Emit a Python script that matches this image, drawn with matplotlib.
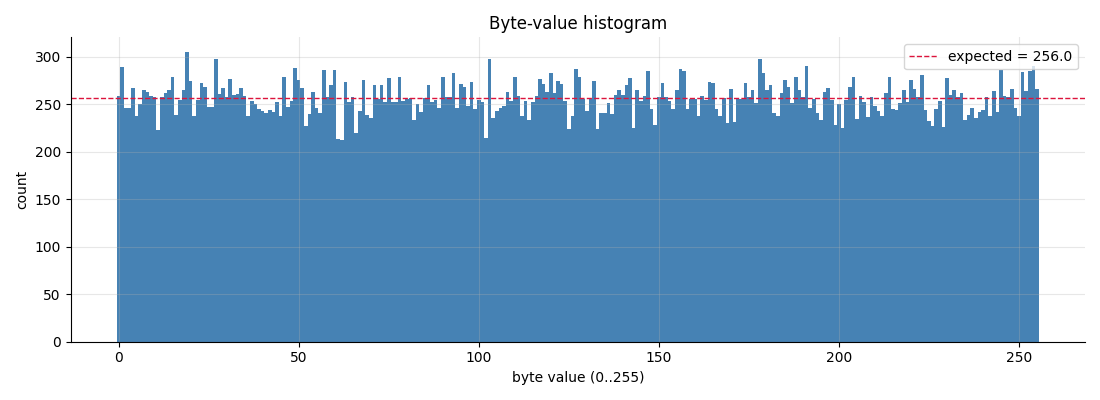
"""
Byte-value histogram (counts per byte value, 0..255)
"""
import matplotlib
matplotlib.use("Agg")
import matplotlib.pyplot as plt
import numpy as np

C_BAR = "steelblue"
C_EXP = "crimson"

# counts, bin 0..255
counts = [
    # 0-25
    259, 289, 246, 246, 267, 238, 250, 265, 263, 259, 257, 223, 257, 262, 265, 278,
    239, 254, 265, 305, 274, 238, 254, 272, 268, 247,
    # 26-52
    247, 297, 261, 267, 258, 276, 260, 261, 267, 259, 237, 253, 250, 245, 243, 241,
    244, 242, 252, 238, 279, 247, 253, 288, 275, 267, 227,
    # 53-78
    240, 263, 246, 241, 286, 257, 270, 286, 213, 212, 273, 252, 257, 220, 243, 275,
    239, 235, 270, 255, 270, 252, 277, 252, 252, 278,
    # 79-105
    253, 255, 256, 233, 250, 242, 256, 270, 252, 254, 246, 279, 258, 258, 283, 246,
    271, 268, 248, 273, 245, 254, 252, 214, 297, 235, 243,
    # 106-132
    246, 248, 263, 253, 279, 259, 238, 253, 233, 252, 259, 276, 271, 263, 283, 262,
    274, 271, 253, 224, 237, 287, 279, 255, 243, 255, 274,
    # 133-159
    224, 241, 241, 251, 240, 260, 265, 260, 270, 277, 225, 265, 253, 259, 285, 245,
    228, 258, 272, 258, 253, 245, 265, 287, 285, 245, 255,
    # 160-185
    255, 238, 259, 254, 273, 272, 245, 238, 256, 230, 266, 231, 255, 255, 272, 258,
    265, 251, 297, 283, 265, 270, 241, 238, 262, 275,
    # 186-212
    268, 251, 278, 265, 257, 290, 246, 255, 241, 233, 263, 267, 254, 228, 250, 225,
    254, 268, 279, 234, 259, 252, 236, 258, 248, 243, 238,
    # 213-239
    262, 278, 245, 244, 251, 265, 252, 275, 266, 257, 281, 244, 232, 227, 245, 253,
    226, 277, 260, 265, 258, 262, 233, 239, 246, 235, 242,
    # 240-255
    244, 258, 238, 264, 242, 286, 259, 258, 266, 246, 238, 284, 264, 285, 290, 266,
]
byte_values = np.arange(len(counts))
expected = 256.0

fig, ax = plt.subplots(figsize=(11, 4), dpi=100)
ax.bar(byte_values, counts, width=1.0, color=C_BAR)
ax.axhline(expected, color=C_EXP, linestyle="--", linewidth=1,
           label=f"expected = {expected:.1f}")

ax.set_title("Byte-value histogram")
ax.set_xlabel("byte value (0..255)")
ax.set_ylabel("count")
ax.grid(alpha=0.3)
ax.spines["top"].set_visible(False)
ax.spines["right"].set_visible(False)
ax.legend(loc="upper right")

fig.tight_layout()
fig.savefig("out.png")
